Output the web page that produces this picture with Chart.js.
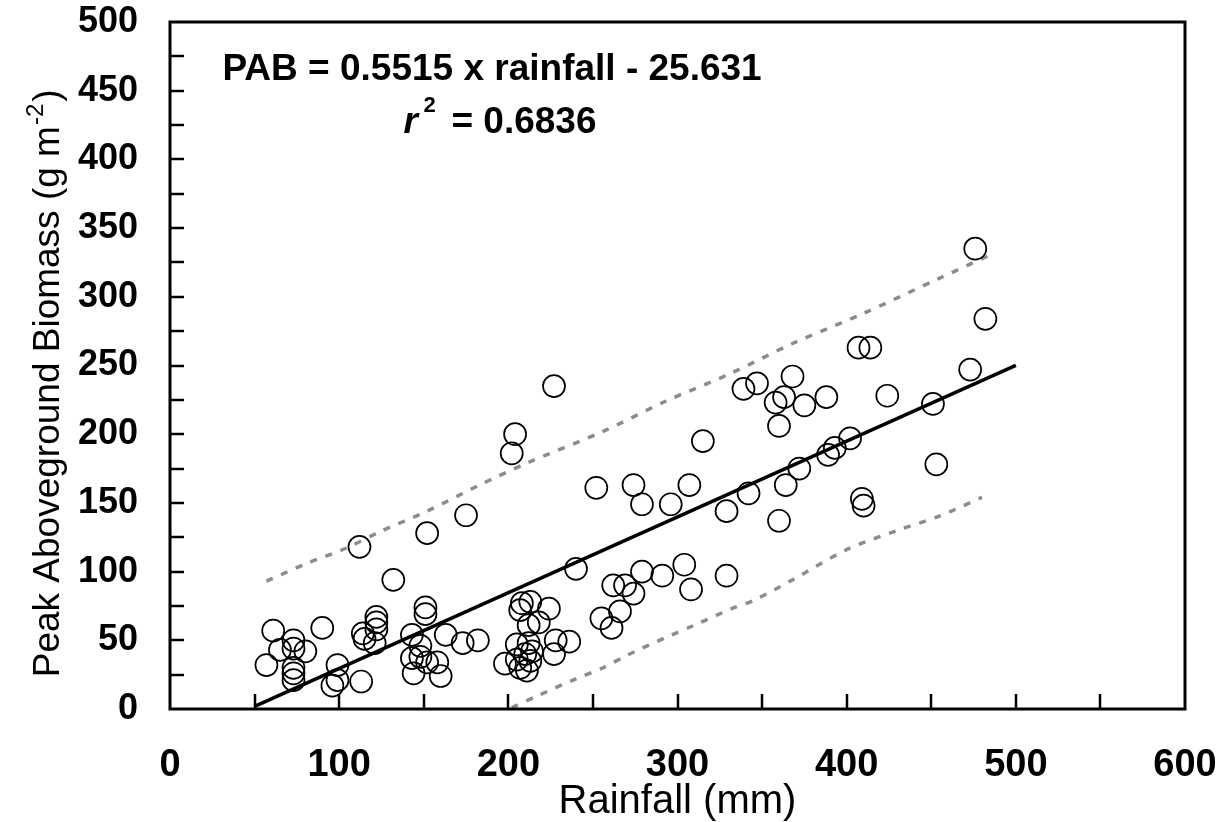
<!DOCTYPE html>
<html>
<head>
<meta charset="utf-8">
<title>Peak aboveground biomass vs rainfall</title>
<script src="https://cdn.jsdelivr.net/npm/chart.js@4.4.1/dist/chart.umd.min.js"></script>
<style>
  html, body { margin: 0; padding: 0; background: #ffffff; }
  #wrap { width: 1227px; height: 822px; }
</style>
</head>
<body>
<div id="wrap"><canvas id="chart"></canvas></div>
<script>
// observed plots: rainfall (mm) and peak aboveground biomass (g m-2)
const rainfall = [
  57, 61, 65, 73, 73, 73, 73, 73, 80, 90, 96, 99, 99, 113, 112, 114, 115, 121, 122, 122, 122,
  132, 143, 143, 144, 148, 148, 151, 151, 152, 152, 158, 160, 163, 173, 175, 182,
  202, 204, 227, 208, 213, 207, 224, 212, 218, 228, 236, 227, 198, 205, 205, 207, 210, 211,
  212, 214, 213, 240, 252, 255, 261, 262, 266, 269, 274, 274, 279, 279, 291, 296, 304, 307,
  308, 315, 329, 329, 339, 342, 347, 358, 360, 360, 363, 364, 368, 372, 375, 388, 389, 393,
  402, 407, 409, 410, 414, 424, 451, 453, 473, 476, 482
];
const biomass = [
  32, 57, 43, 50, 44, 30, 26, 21, 42, 59, 17, 21, 32, 20, 118, 55, 51, 48, 67, 63, 58,
  94, 54, 37, 26, 46, 38, 74, 69, 34, 128, 34, 24, 54, 48, 141, 50,
  186, 200, 235, 77, 78, 72, 73, 61, 63, 50, 49, 40, 33, 47, 36, 30, 40, 28,
  48, 42, 35, 102, 161, 66, 59, 90, 71, 90, 84, 163, 149, 100, 97, 149, 105, 163,
  87, 195, 144, 97, 233, 157, 237, 223, 206, 137, 227, 163, 242, 175, 221, 227, 185, 190,
  197, 263, 153, 148, 263, 228, 222, 178, 247, 335, 284
];

// fitted regression: PAB = 0.5515 x rainfall - 25.631
const fitRain = [50, 500];
const fitPAB = [1.9, 250.1];

// prediction limits (grey dashes)
const upperRain = [57, 81, 104, 124, 152, 183, 211, 256, 293, 331, 368, 410, 454, 484];
const upperPAB = [93, 106, 117, 129, 144, 163, 179, 202, 224, 244, 266, 288, 313, 330];
const lowerRain = [202, 218, 240, 256, 270, 293, 310, 332, 345, 368, 400, 430, 454, 480];
const lowerPAB = [1, 10, 22, 30, 39, 52, 61, 73, 79, 94, 116, 130, 140, 154];

// axis ticks
const xTicks = [0, 100, 200, 300, 400, 500, 600];
const yTicks = [0, 50, 100, 150, 200, 250, 300, 350, 400, 450, 500];
const xMinorTicks = [50, 100, 150, 200, 250, 300, 350, 400, 450, 500, 550];
const yMinorTicks = [25, 50, 75, 100, 125, 150, 175, 200, 225, 250, 275, 300, 325, 350, 375, 400, 425, 450, 475];

const FONT = '"Liberation Sans", Arial, Helvetica, sans-serif';

function pairs(xs, ys) {
  return xs.map(function(x, i) { return { x: x, y: ys[i] }; });
}

// frame, inward ticks, y title with superscript and the equation text
const framePlugin = {
  id: 'frame',
  afterDraw: function(chart) {
    const ctx = chart.ctx;
    const a = chart.chartArea;
    const xs = chart.scales.x;
    const ys = chart.scales.y;
    ctx.save();
    ctx.strokeStyle = '#000';
    ctx.lineWidth = 3;
    ctx.strokeRect(a.left, a.top, a.right - a.left, a.bottom - a.top);

    ctx.lineWidth = 2.5;
    ctx.beginPath();
    xMinorTicks.forEach(function(v) {
      const px = Math.round(xs.getPixelForValue(v));
      ctx.moveTo(px, a.bottom);
      ctx.lineTo(px, a.bottom - 15);
    });
    yMinorTicks.forEach(function(v) {
      const py = Math.round(ys.getPixelForValue(v));
      ctx.moveTo(a.left, py);
      ctx.lineTo(a.left + 14, py);
    });
    ctx.stroke();

    ctx.fillStyle = '#000';
    ctx.textBaseline = 'alphabetic';
    ctx.textAlign = 'left';

    // y axis title, rotated, with the m-2 superscript
    const mainPart = 'Peak Aboveground Biomass (g m';
    const supPart = '-2';
    const endPart = ')';
    ctx.font = '37px ' + FONT;
    const w1 = ctx.measureText(mainPart).width;
    const w3 = ctx.measureText(endPart).width;
    ctx.font = '24px ' + FONT;
    const w2 = ctx.measureText(supPart).width;
    const total = w1 + w2 + 3 + w3;
    ctx.save();
    ctx.translate(59, ys.getPixelForValue(237));
    ctx.rotate(-Math.PI / 2);
    ctx.font = '37px ' + FONT;
    ctx.fillText(mainPart, -total / 2, 0);
    ctx.font = '24px ' + FONT;
    ctx.fillText(supPart, -total / 2 + w1 + 1, -16);
    ctx.font = '37px ' + FONT;
    ctx.fillText(endPart, -total / 2 + w1 + w2 + 3, 0);
    ctx.restore();

    // regression annotation
    ctx.font = 'bold 37px ' + FONT;
    ctx.fillText('PAB = 0.5515 x rainfall - 25.631', xs.getPixelForValue(31), ys.getPixelForValue(458));

    const rx = xs.getPixelForValue(138);
    const ry = ys.getPixelForValue(419);
    ctx.font = 'italic bold 37px ' + FONT;
    ctx.fillText('r', rx, ry);
    ctx.font = 'bold 22px ' + FONT;
    ctx.fillText('2', rx + 20, ry - 21);
    ctx.font = 'bold 37px ' + FONT;
    ctx.fillText('= 0.6836', rx + 48, ry);
    ctx.restore();
  }
};

const chart = new Chart(document.getElementById('chart'), {
  type: 'scatter',
  data: {
    datasets: [
      {
        label: 'Observed',
        data: pairs(rainfall, biomass),
        pointStyle: 'circle',
        pointRadius: 11,
        pointHoverRadius: 11,
        pointBorderWidth: 1.7,
        borderColor: '#000',
        backgroundColor: 'rgba(0,0,0,0)',
        order: 1
      },
      {
        label: 'Regression',
        data: pairs(fitRain, fitPAB),
        showLine: true,
        pointRadius: 0,
        borderColor: '#000',
        borderWidth: 3.5,
        order: 2
      },
      {
        label: 'Upper limit',
        data: pairs(upperRain, upperPAB),
        showLine: true,
        pointRadius: 0,
        borderColor: '#8c8c8c',
        borderWidth: 3.5,
        borderDash: [7, 9],
        tension: 0.3,
        order: 3
      },
      {
        label: 'Lower limit',
        data: pairs(lowerRain, lowerPAB),
        showLine: true,
        pointRadius: 0,
        borderColor: '#8c8c8c',
        borderWidth: 3.5,
        borderDash: [7, 9],
        tension: 0.3,
        order: 3
      }
    ]
  },
  options: {
    responsive: true,
    maintainAspectRatio: false,
    animation: false,
    layout: { padding: { left: 28, right: 42, top: 22, bottom: 0 } },
    plugins: {
      legend: { display: false },
      tooltip: { enabled: false }
    },
    scales: {
      x: {
        type: 'linear',
        min: 0,
        max: 600,
        afterBuildTicks: function(scale) {
          scale.ticks = xTicks.map(function(v) { return { value: v }; });
        },
        afterFit: function(scale) {
          scale.height = 113;
          scale.paddingLeft = 0;
          scale.paddingRight = 0;
        },
        grid: { display: false, drawTicks: false },
        border: { display: false },
        ticks: {
          padding: 38,
          color: '#000',
          maxRotation: 0,
          font: { family: FONT, size: 38, weight: 'bold', lineHeight: 1 }
        },
        title: {
          display: true,
          text: 'Rainfall (mm)',
          color: '#000',
          padding: { top: 0, bottom: 0 },
          font: { family: FONT, size: 40, lineHeight: 1 }
        }
      },
      y: {
        type: 'linear',
        min: 0,
        max: 500,
        afterBuildTicks: function(scale) {
          scale.ticks = yTicks.map(function(v) { return { value: v }; });
        },
        afterFit: function(scale) {
          scale.width = 142;
          scale.paddingTop = 0;
          scale.paddingBottom = 0;
        },
        grid: { display: false, drawTicks: false },
        border: { display: false },
        ticks: {
          padding: 32,
          color: '#000',
          font: { family: FONT, size: 36, weight: 'bold', lineHeight: 1 }
        },
        title: { display: false }
      }
    }
  },
  plugins: [framePlugin]
});
</script>
</body>
</html>
